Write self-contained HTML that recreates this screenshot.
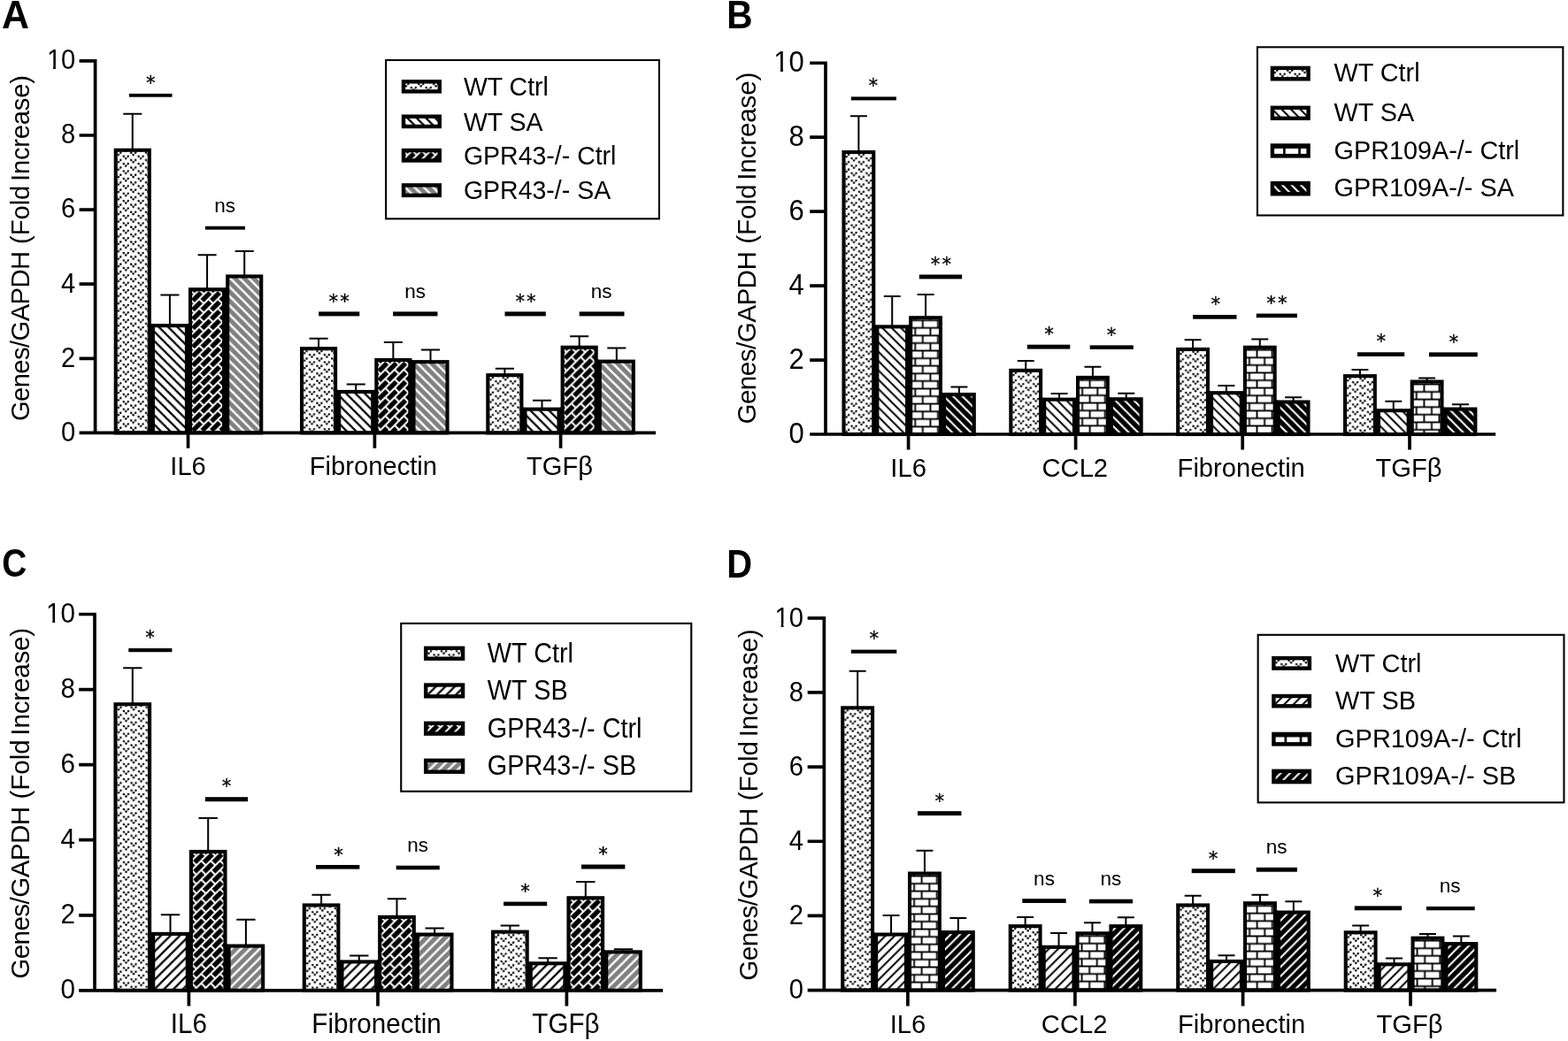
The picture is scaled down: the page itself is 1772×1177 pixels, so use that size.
<!DOCTYPE html>
<html lang="en">
<head>
<meta charset="utf-8">
<title>Figure: gene expression bar charts</title>
<style>
html,body{margin:0;padding:0;background:#fff;}
body{width:1772px;height:1177px;overflow:hidden;}
svg{display:block;}
svg text{font-family:"Liberation Sans",sans-serif;fill:#000;}
svg text.st{font-family:"DejaVu Sans Mono",monospace;stroke:#000;stroke-width:0.3px;}
svg text.pl{font-weight:bold;}
</style>
</head>
<body>
<svg width="1772" height="1177" viewBox="0 0 1772 1177" fill="#000">
<defs><pattern id="pDotA" patternUnits="userSpaceOnUse" width="16.82" height="8.41" patternTransform="translate(9.35 5.2)"><rect width="16.82" height="8.41" fill="#fff"/><g fill="#000"><path d="M1.7 -4.6L4.21 -2.1L6.71 -4.6" fill="none" stroke="#000" stroke-width="0.9" stroke-opacity="0.6"/><circle cx="1.7" cy="-4.6" r="1.22"/><circle cx="6.71" cy="-4.6" r="1.22"/><circle cx="4.21" cy="-2.1" r="1.22"/><path d="M10.11 -8.81L12.62 -6.31L15.12 -8.81" fill="none" stroke="#000" stroke-width="0.9" stroke-opacity="0.6"/><circle cx="10.11" cy="-8.81" r="1.22"/><circle cx="15.12" cy="-8.81" r="1.22"/><circle cx="12.62" cy="-6.31" r="1.22"/><path d="M1.7 3.81L4.21 6.31L6.71 3.81" fill="none" stroke="#000" stroke-width="0.9" stroke-opacity="0.6"/><circle cx="1.7" cy="3.81" r="1.22"/><circle cx="6.71" cy="3.81" r="1.22"/><circle cx="4.21" cy="6.31" r="1.22"/><path d="M10.11 -0.4L12.62 2.1L15.12 -0.4" fill="none" stroke="#000" stroke-width="0.9" stroke-opacity="0.6"/><circle cx="10.11" cy="-0.4" r="1.22"/><circle cx="15.12" cy="-0.4" r="1.22"/><circle cx="12.62" cy="2.1" r="1.22"/><path d="M1.7 12.22L4.21 14.72L6.71 12.22" fill="none" stroke="#000" stroke-width="0.9" stroke-opacity="0.6"/><circle cx="1.7" cy="12.22" r="1.22"/><circle cx="6.71" cy="12.22" r="1.22"/><circle cx="4.21" cy="14.72" r="1.22"/><path d="M10.11 8.01L12.62 10.51L15.12 8.01" fill="none" stroke="#000" stroke-width="0.9" stroke-opacity="0.6"/><circle cx="10.11" cy="8.01" r="1.22"/><circle cx="15.12" cy="8.01" r="1.22"/><circle cx="12.62" cy="10.51" r="1.22"/></g></pattern><pattern id="pDownA" patternUnits="userSpaceOnUse" width="10.5" height="10.5" patternTransform="translate(0 1.14)"><rect width="10.5" height="10.5" fill="#fff"/><g stroke="#000" stroke-width="2.25" fill="none"><path d="M-2 -2L12.5 12.5"/><path d="M-2 8.5L2 12.5"/><path d="M8.5 -2L12.5 2"/></g></pattern><pattern id="pGDownA" patternUnits="userSpaceOnUse" width="10.5" height="10.5" patternTransform="translate(0 1.9)"><rect width="10.5" height="10.5" fill="#808080"/><g stroke="#fff" stroke-width="2.5" fill="none"><path d="M-2 -2L12.5 12.5"/><path d="M-2 8.5L2 12.5"/><path d="M8.5 -2L12.5 2"/></g></pattern><pattern id="pDBrickA" patternUnits="userSpaceOnUse" width="21" height="21" patternTransform="translate(1.6 12.8)"><rect width="21" height="21" fill="#000"/><g stroke="#fff" stroke-width="2.0" fill="none"><path d="M3 -3L-3 3"/><path d="M13.5 -3L-3 13.5"/><path d="M24 -3L-3 24"/><path d="M34.5 -3L-3 34.5"/><path d="M45 -3L-3 45"/><path d="M0 0L5.25 5.25"/><path d="M0 10.5L5.25 15.75"/><path d="M10.5 0L15.75 5.25"/><path d="M0 21L5.25 26.25"/><path d="M10.5 10.5L15.75 15.75"/><path d="M21 0L26.25 5.25"/><path d="M10.5 21L15.75 26.25"/><path d="M21 10.5L26.25 15.75"/><path d="M21 21L26.25 26.25"/></g></pattern><pattern id="pDotAL" patternUnits="userSpaceOnUse" width="16.82" height="8.41" patternTransform="translate(9.35 5.2)"><rect width="16.82" height="8.41" fill="#fff"/><g fill="#000"><path d="M1.7 -4.6L4.21 -2.1L6.71 -4.6" fill="none" stroke="#000" stroke-width="0.9" stroke-opacity="0.6"/><circle cx="1.7" cy="-4.6" r="1.22"/><circle cx="6.71" cy="-4.6" r="1.22"/><circle cx="4.21" cy="-2.1" r="1.22"/><path d="M10.11 -8.81L12.62 -6.31L15.12 -8.81" fill="none" stroke="#000" stroke-width="0.9" stroke-opacity="0.6"/><circle cx="10.11" cy="-8.81" r="1.22"/><circle cx="15.12" cy="-8.81" r="1.22"/><circle cx="12.62" cy="-6.31" r="1.22"/><path d="M1.7 3.81L4.21 6.31L6.71 3.81" fill="none" stroke="#000" stroke-width="0.9" stroke-opacity="0.6"/><circle cx="1.7" cy="3.81" r="1.22"/><circle cx="6.71" cy="3.81" r="1.22"/><circle cx="4.21" cy="6.31" r="1.22"/><path d="M10.11 -0.4L12.62 2.1L15.12 -0.4" fill="none" stroke="#000" stroke-width="0.9" stroke-opacity="0.6"/><circle cx="10.11" cy="-0.4" r="1.22"/><circle cx="15.12" cy="-0.4" r="1.22"/><circle cx="12.62" cy="2.1" r="1.22"/><path d="M1.7 12.22L4.21 14.72L6.71 12.22" fill="none" stroke="#000" stroke-width="0.9" stroke-opacity="0.6"/><circle cx="1.7" cy="12.22" r="1.22"/><circle cx="6.71" cy="12.22" r="1.22"/><circle cx="4.21" cy="14.72" r="1.22"/><path d="M10.11 8.01L12.62 10.51L15.12 8.01" fill="none" stroke="#000" stroke-width="0.9" stroke-opacity="0.6"/><circle cx="10.11" cy="8.01" r="1.22"/><circle cx="15.12" cy="8.01" r="1.22"/><circle cx="12.62" cy="10.51" r="1.22"/></g></pattern><pattern id="pDownAL" patternUnits="userSpaceOnUse" width="10.5" height="10.5" patternTransform="translate(0 -1.46)"><rect width="10.5" height="10.5" fill="#fff"/><g stroke="#000" stroke-width="2.25" fill="none"><path d="M-2 -2L12.5 12.5"/><path d="M-2 8.5L2 12.5"/><path d="M8.5 -2L12.5 2"/></g></pattern><pattern id="pGDownAL" patternUnits="userSpaceOnUse" width="10.5" height="10.5" patternTransform="translate(0 5.8)"><rect width="10.5" height="10.5" fill="#808080"/><g stroke="#fff" stroke-width="2.5" fill="none"><path d="M-2 -2L12.5 12.5"/><path d="M-2 8.5L2 12.5"/><path d="M8.5 -2L12.5 2"/></g></pattern><pattern id="pDBrickAL" patternUnits="userSpaceOnUse" width="21" height="21" patternTransform="translate(1.6 12.8)"><rect width="21" height="21" fill="#000"/><g stroke="#fff" stroke-width="2.0" fill="none"><path d="M3 -3L-3 3"/><path d="M13.5 -3L-3 13.5"/><path d="M24 -3L-3 24"/><path d="M34.5 -3L-3 34.5"/><path d="M45 -3L-3 45"/><path d="M0 0L5.25 5.25"/><path d="M0 10.5L5.25 15.75"/><path d="M10.5 0L15.75 5.25"/><path d="M0 21L5.25 26.25"/><path d="M10.5 10.5L15.75 15.75"/><path d="M21 0L26.25 5.25"/><path d="M10.5 21L15.75 26.25"/><path d="M21 10.5L26.25 15.75"/><path d="M21 21L26.25 26.25"/></g></pattern><pattern id="pDotB" patternUnits="userSpaceOnUse" width="16.82" height="8.41" patternTransform="translate(9.35 5.2)"><rect width="16.82" height="8.41" fill="#fff"/><g fill="#000"><path d="M1.7 -4.6L4.21 -2.1L6.71 -4.6" fill="none" stroke="#000" stroke-width="0.9" stroke-opacity="0.6"/><circle cx="1.7" cy="-4.6" r="1.22"/><circle cx="6.71" cy="-4.6" r="1.22"/><circle cx="4.21" cy="-2.1" r="1.22"/><path d="M10.11 -8.81L12.62 -6.31L15.12 -8.81" fill="none" stroke="#000" stroke-width="0.9" stroke-opacity="0.6"/><circle cx="10.11" cy="-8.81" r="1.22"/><circle cx="15.12" cy="-8.81" r="1.22"/><circle cx="12.62" cy="-6.31" r="1.22"/><path d="M1.7 3.81L4.21 6.31L6.71 3.81" fill="none" stroke="#000" stroke-width="0.9" stroke-opacity="0.6"/><circle cx="1.7" cy="3.81" r="1.22"/><circle cx="6.71" cy="3.81" r="1.22"/><circle cx="4.21" cy="6.31" r="1.22"/><path d="M10.11 -0.4L12.62 2.1L15.12 -0.4" fill="none" stroke="#000" stroke-width="0.9" stroke-opacity="0.6"/><circle cx="10.11" cy="-0.4" r="1.22"/><circle cx="15.12" cy="-0.4" r="1.22"/><circle cx="12.62" cy="2.1" r="1.22"/><path d="M1.7 12.22L4.21 14.72L6.71 12.22" fill="none" stroke="#000" stroke-width="0.9" stroke-opacity="0.6"/><circle cx="1.7" cy="12.22" r="1.22"/><circle cx="6.71" cy="12.22" r="1.22"/><circle cx="4.21" cy="14.72" r="1.22"/><path d="M10.11 8.01L12.62 10.51L15.12 8.01" fill="none" stroke="#000" stroke-width="0.9" stroke-opacity="0.6"/><circle cx="10.11" cy="8.01" r="1.22"/><circle cx="15.12" cy="8.01" r="1.22"/><circle cx="12.62" cy="10.51" r="1.22"/></g></pattern><pattern id="pDownB" patternUnits="userSpaceOnUse" width="10.5" height="10.5" patternTransform="translate(0 3.5)"><rect width="10.5" height="10.5" fill="#fff"/><g stroke="#000" stroke-width="2.0" fill="none"><path d="M-2 -2L12.5 12.5"/><path d="M-2 8.5L2 12.5"/><path d="M8.5 -2L12.5 2"/></g></pattern><pattern id="pBDownB" patternUnits="userSpaceOnUse" width="10.5" height="10.5" patternTransform="translate(0 0.85)"><rect width="10.5" height="10.5" fill="#000"/><g stroke="#fff" stroke-width="2.1" fill="none"><path d="M-2 -2L12.5 12.5"/><path d="M-2 8.5L2 12.5"/><path d="M8.5 -2L12.5 2"/></g></pattern><pattern id="pHBrickB" patternUnits="userSpaceOnUse" width="17.17" height="17.17" patternTransform="translate(11.38 0.68)"><rect width="17.17" height="17.17" fill="#fff"/><g stroke="#000" stroke-width="1.9" fill="none"><path d="M-1 4.29H18.17"/><path d="M-1 12.88H18.17"/><path d="M4.29 4.29V12.88"/><path d="M12.88 -1V4.29"/><path d="M12.88 12.88V18.17"/></g></pattern><pattern id="pDotBL" patternUnits="userSpaceOnUse" width="16.82" height="8.41" patternTransform="translate(9.35 5.2)"><rect width="16.82" height="8.41" fill="#fff"/><g fill="#000"><path d="M1.7 -4.6L4.21 -2.1L6.71 -4.6" fill="none" stroke="#000" stroke-width="0.9" stroke-opacity="0.6"/><circle cx="1.7" cy="-4.6" r="1.22"/><circle cx="6.71" cy="-4.6" r="1.22"/><circle cx="4.21" cy="-2.1" r="1.22"/><path d="M10.11 -8.81L12.62 -6.31L15.12 -8.81" fill="none" stroke="#000" stroke-width="0.9" stroke-opacity="0.6"/><circle cx="10.11" cy="-8.81" r="1.22"/><circle cx="15.12" cy="-8.81" r="1.22"/><circle cx="12.62" cy="-6.31" r="1.22"/><path d="M1.7 3.81L4.21 6.31L6.71 3.81" fill="none" stroke="#000" stroke-width="0.9" stroke-opacity="0.6"/><circle cx="1.7" cy="3.81" r="1.22"/><circle cx="6.71" cy="3.81" r="1.22"/><circle cx="4.21" cy="6.31" r="1.22"/><path d="M10.11 -0.4L12.62 2.1L15.12 -0.4" fill="none" stroke="#000" stroke-width="0.9" stroke-opacity="0.6"/><circle cx="10.11" cy="-0.4" r="1.22"/><circle cx="15.12" cy="-0.4" r="1.22"/><circle cx="12.62" cy="2.1" r="1.22"/><path d="M1.7 12.22L4.21 14.72L6.71 12.22" fill="none" stroke="#000" stroke-width="0.9" stroke-opacity="0.6"/><circle cx="1.7" cy="12.22" r="1.22"/><circle cx="6.71" cy="12.22" r="1.22"/><circle cx="4.21" cy="14.72" r="1.22"/><path d="M10.11 8.01L12.62 10.51L15.12 8.01" fill="none" stroke="#000" stroke-width="0.9" stroke-opacity="0.6"/><circle cx="10.11" cy="8.01" r="1.22"/><circle cx="15.12" cy="8.01" r="1.22"/><circle cx="12.62" cy="10.51" r="1.22"/></g></pattern><pattern id="pDownBL" patternUnits="userSpaceOnUse" width="10.5" height="10.5" patternTransform="translate(0 8.7)"><rect width="10.5" height="10.5" fill="#fff"/><g stroke="#000" stroke-width="2.0" fill="none"><path d="M-2 -2L12.5 12.5"/><path d="M-2 8.5L2 12.5"/><path d="M8.5 -2L12.5 2"/></g></pattern><pattern id="pBDownBL" patternUnits="userSpaceOnUse" width="10.5" height="10.5" patternTransform="translate(0 -0.85)"><rect width="10.5" height="10.5" fill="#000"/><g stroke="#fff" stroke-width="2.1" fill="none"><path d="M-2 -2L12.5 12.5"/><path d="M-2 8.5L2 12.5"/><path d="M8.5 -2L12.5 2"/></g></pattern><pattern id="pHBrickBL" patternUnits="userSpaceOnUse" width="17.17" height="17.17" patternTransform="translate(11.38 0.1)"><rect width="17.17" height="17.17" fill="#fff"/><g stroke="#000" stroke-width="2.6" fill="none"><path d="M-1 4.29H18.17"/><path d="M-1 12.88H18.17"/><path d="M4.29 4.29V12.88"/><path d="M12.88 -1V4.29"/><path d="M12.88 12.88V18.17"/></g></pattern><pattern id="pDotC" patternUnits="userSpaceOnUse" width="17.07" height="8.54" patternTransform="translate(9.8 6)"><rect width="17.07" height="8.54" fill="#fff"/><g fill="#000"><path d="M1.73 -4.67L4.27 -2.13L6.81 -4.67" fill="none" stroke="#000" stroke-width="0.9" stroke-opacity="0.6"/><circle cx="1.73" cy="-4.67" r="1.22"/><circle cx="6.81" cy="-4.67" r="1.22"/><circle cx="4.27" cy="-2.13" r="1.22"/><path d="M10.26 -8.94L12.8 -6.4L15.34 -8.94" fill="none" stroke="#000" stroke-width="0.9" stroke-opacity="0.6"/><circle cx="10.26" cy="-8.94" r="1.22"/><circle cx="15.34" cy="-8.94" r="1.22"/><circle cx="12.8" cy="-6.4" r="1.22"/><path d="M1.73 3.86L4.27 6.4L6.81 3.86" fill="none" stroke="#000" stroke-width="0.9" stroke-opacity="0.6"/><circle cx="1.73" cy="3.86" r="1.22"/><circle cx="6.81" cy="3.86" r="1.22"/><circle cx="4.27" cy="6.4" r="1.22"/><path d="M10.26 -0.41L12.8 2.13L15.34 -0.41" fill="none" stroke="#000" stroke-width="0.9" stroke-opacity="0.6"/><circle cx="10.26" cy="-0.41" r="1.22"/><circle cx="15.34" cy="-0.41" r="1.22"/><circle cx="12.8" cy="2.13" r="1.22"/><path d="M1.73 12.4L4.27 14.94L6.81 12.4" fill="none" stroke="#000" stroke-width="0.9" stroke-opacity="0.6"/><circle cx="1.73" cy="12.4" r="1.22"/><circle cx="6.81" cy="12.4" r="1.22"/><circle cx="4.27" cy="14.94" r="1.22"/><path d="M10.26 8.13L12.8 10.67L15.34 8.13" fill="none" stroke="#000" stroke-width="0.9" stroke-opacity="0.6"/><circle cx="10.26" cy="8.13" r="1.22"/><circle cx="15.34" cy="8.13" r="1.22"/><circle cx="12.8" cy="10.67" r="1.22"/></g></pattern><pattern id="pUpC" patternUnits="userSpaceOnUse" width="10.66" height="10.66" patternTransform="translate(0 3.2)"><rect width="10.66" height="10.66" fill="#fff"/><g stroke="#000" stroke-width="2.25" fill="none"><path d="M-2 12.66L12.66 -2"/><path d="M-2 2L2 -2"/><path d="M8.66 12.66L12.66 8.66"/></g></pattern><pattern id="pGUpC" patternUnits="userSpaceOnUse" width="10.66" height="10.66" patternTransform="translate(0 1.8)"><rect width="10.66" height="10.66" fill="#808080"/><g stroke="#fff" stroke-width="2.5" fill="none"><path d="M-2 12.66L12.66 -2"/><path d="M-2 2L2 -2"/><path d="M8.66 12.66L12.66 8.66"/></g></pattern><pattern id="pDBrickC" patternUnits="userSpaceOnUse" width="21.31" height="21.31" patternTransform="translate(2.85 12.2)"><rect width="21.31" height="21.31" fill="#000"/><g stroke="#fff" stroke-width="2.0" fill="none"><path d="M3 -3L-3 3"/><path d="M13.66 -3L-3 13.66"/><path d="M24.31 -3L-3 24.31"/><path d="M34.97 -3L-3 34.97"/><path d="M45.63 -3L-3 45.63"/><path d="M0 0L5.33 5.33"/><path d="M0 10.66L5.33 15.99"/><path d="M10.66 0L15.99 5.33"/><path d="M0 21.31L5.33 26.64"/><path d="M10.66 10.66L15.99 15.99"/><path d="M21.31 0L26.64 5.33"/><path d="M10.66 21.31L15.99 26.64"/><path d="M21.31 10.66L26.64 15.99"/><path d="M21.31 21.31L26.64 26.64"/></g></pattern><pattern id="pDotCL" patternUnits="userSpaceOnUse" width="17.07" height="8.54" patternTransform="translate(9.8 6)"><rect width="17.07" height="8.54" fill="#fff"/><g fill="#000"><path d="M1.73 -4.67L4.27 -2.13L6.81 -4.67" fill="none" stroke="#000" stroke-width="0.9" stroke-opacity="0.6"/><circle cx="1.73" cy="-4.67" r="1.22"/><circle cx="6.81" cy="-4.67" r="1.22"/><circle cx="4.27" cy="-2.13" r="1.22"/><path d="M10.26 -8.94L12.8 -6.4L15.34 -8.94" fill="none" stroke="#000" stroke-width="0.9" stroke-opacity="0.6"/><circle cx="10.26" cy="-8.94" r="1.22"/><circle cx="15.34" cy="-8.94" r="1.22"/><circle cx="12.8" cy="-6.4" r="1.22"/><path d="M1.73 3.86L4.27 6.4L6.81 3.86" fill="none" stroke="#000" stroke-width="0.9" stroke-opacity="0.6"/><circle cx="1.73" cy="3.86" r="1.22"/><circle cx="6.81" cy="3.86" r="1.22"/><circle cx="4.27" cy="6.4" r="1.22"/><path d="M10.26 -0.41L12.8 2.13L15.34 -0.41" fill="none" stroke="#000" stroke-width="0.9" stroke-opacity="0.6"/><circle cx="10.26" cy="-0.41" r="1.22"/><circle cx="15.34" cy="-0.41" r="1.22"/><circle cx="12.8" cy="2.13" r="1.22"/><path d="M1.73 12.4L4.27 14.94L6.81 12.4" fill="none" stroke="#000" stroke-width="0.9" stroke-opacity="0.6"/><circle cx="1.73" cy="12.4" r="1.22"/><circle cx="6.81" cy="12.4" r="1.22"/><circle cx="4.27" cy="14.94" r="1.22"/><path d="M10.26 8.13L12.8 10.67L15.34 8.13" fill="none" stroke="#000" stroke-width="0.9" stroke-opacity="0.6"/><circle cx="10.26" cy="8.13" r="1.22"/><circle cx="15.34" cy="8.13" r="1.22"/><circle cx="12.8" cy="10.67" r="1.22"/></g></pattern><pattern id="pUpCL" patternUnits="userSpaceOnUse" width="10.66" height="10.66" patternTransform="translate(0 0.3)"><rect width="10.66" height="10.66" fill="#fff"/><g stroke="#000" stroke-width="2.25" fill="none"><path d="M-2 12.66L12.66 -2"/><path d="M-2 2L2 -2"/><path d="M8.66 12.66L12.66 8.66"/></g></pattern><pattern id="pGUpCL" patternUnits="userSpaceOnUse" width="10.66" height="10.66" patternTransform="translate(0 1.8)"><rect width="10.66" height="10.66" fill="#808080"/><g stroke="#fff" stroke-width="2.5" fill="none"><path d="M-2 12.66L12.66 -2"/><path d="M-2 2L2 -2"/><path d="M8.66 12.66L12.66 8.66"/></g></pattern><pattern id="pDBrickCL" patternUnits="userSpaceOnUse" width="21.31" height="21.31" patternTransform="translate(2.85 12.2)"><rect width="21.31" height="21.31" fill="#000"/><g stroke="#fff" stroke-width="2.0" fill="none"><path d="M3 -3L-3 3"/><path d="M13.66 -3L-3 13.66"/><path d="M24.31 -3L-3 24.31"/><path d="M34.97 -3L-3 34.97"/><path d="M45.63 -3L-3 45.63"/><path d="M0 0L5.33 5.33"/><path d="M0 10.66L5.33 15.99"/><path d="M10.66 0L15.99 5.33"/><path d="M0 21.31L5.33 26.64"/><path d="M10.66 10.66L15.99 15.99"/><path d="M21.31 0L26.64 5.33"/><path d="M10.66 21.31L15.99 26.64"/><path d="M21.31 10.66L26.64 15.99"/><path d="M21.31 21.31L26.64 26.64"/></g></pattern><pattern id="pDotD" patternUnits="userSpaceOnUse" width="16.82" height="8.41" patternTransform="translate(9.35 5.2)"><rect width="16.82" height="8.41" fill="#fff"/><g fill="#000"><path d="M1.7 -4.6L4.21 -2.1L6.71 -4.6" fill="none" stroke="#000" stroke-width="0.9" stroke-opacity="0.6"/><circle cx="1.7" cy="-4.6" r="1.22"/><circle cx="6.71" cy="-4.6" r="1.22"/><circle cx="4.21" cy="-2.1" r="1.22"/><path d="M10.11 -8.81L12.62 -6.31L15.12 -8.81" fill="none" stroke="#000" stroke-width="0.9" stroke-opacity="0.6"/><circle cx="10.11" cy="-8.81" r="1.22"/><circle cx="15.12" cy="-8.81" r="1.22"/><circle cx="12.62" cy="-6.31" r="1.22"/><path d="M1.7 3.81L4.21 6.31L6.71 3.81" fill="none" stroke="#000" stroke-width="0.9" stroke-opacity="0.6"/><circle cx="1.7" cy="3.81" r="1.22"/><circle cx="6.71" cy="3.81" r="1.22"/><circle cx="4.21" cy="6.31" r="1.22"/><path d="M10.11 -0.4L12.62 2.1L15.12 -0.4" fill="none" stroke="#000" stroke-width="0.9" stroke-opacity="0.6"/><circle cx="10.11" cy="-0.4" r="1.22"/><circle cx="15.12" cy="-0.4" r="1.22"/><circle cx="12.62" cy="2.1" r="1.22"/><path d="M1.7 12.22L4.21 14.72L6.71 12.22" fill="none" stroke="#000" stroke-width="0.9" stroke-opacity="0.6"/><circle cx="1.7" cy="12.22" r="1.22"/><circle cx="6.71" cy="12.22" r="1.22"/><circle cx="4.21" cy="14.72" r="1.22"/><path d="M10.11 8.01L12.62 10.51L15.12 8.01" fill="none" stroke="#000" stroke-width="0.9" stroke-opacity="0.6"/><circle cx="10.11" cy="8.01" r="1.22"/><circle cx="15.12" cy="8.01" r="1.22"/><circle cx="12.62" cy="10.51" r="1.22"/></g></pattern><pattern id="pUpD" patternUnits="userSpaceOnUse" width="10.5" height="10.5" patternTransform="translate(0 0.7)"><rect width="10.5" height="10.5" fill="#fff"/><g stroke="#000" stroke-width="2.0" fill="none"><path d="M-2 12.5L12.5 -2"/><path d="M-2 2L2 -2"/><path d="M8.5 12.5L12.5 8.5"/></g></pattern><pattern id="pBUpD" patternUnits="userSpaceOnUse" width="10.5" height="10.5" patternTransform="translate(0 -0.6)"><rect width="10.5" height="10.5" fill="#000"/><g stroke="#fff" stroke-width="2.1" fill="none"><path d="M-2 12.5L12.5 -2"/><path d="M-2 2L2 -2"/><path d="M8.5 12.5L12.5 8.5"/></g></pattern><pattern id="pHBrickD" patternUnits="userSpaceOnUse" width="17.17" height="17.17" patternTransform="translate(11.38 0.68)"><rect width="17.17" height="17.17" fill="#fff"/><g stroke="#000" stroke-width="1.9" fill="none"><path d="M-1 4.29H18.17"/><path d="M-1 12.88H18.17"/><path d="M4.29 4.29V12.88"/><path d="M12.88 -1V4.29"/><path d="M12.88 12.88V18.17"/></g></pattern><pattern id="pDotDL" patternUnits="userSpaceOnUse" width="16.82" height="8.41" patternTransform="translate(9.35 5.2)"><rect width="16.82" height="8.41" fill="#fff"/><g fill="#000"><path d="M1.7 -4.6L4.21 -2.1L6.71 -4.6" fill="none" stroke="#000" stroke-width="0.9" stroke-opacity="0.6"/><circle cx="1.7" cy="-4.6" r="1.22"/><circle cx="6.71" cy="-4.6" r="1.22"/><circle cx="4.21" cy="-2.1" r="1.22"/><path d="M10.11 -8.81L12.62 -6.31L15.12 -8.81" fill="none" stroke="#000" stroke-width="0.9" stroke-opacity="0.6"/><circle cx="10.11" cy="-8.81" r="1.22"/><circle cx="15.12" cy="-8.81" r="1.22"/><circle cx="12.62" cy="-6.31" r="1.22"/><path d="M1.7 3.81L4.21 6.31L6.71 3.81" fill="none" stroke="#000" stroke-width="0.9" stroke-opacity="0.6"/><circle cx="1.7" cy="3.81" r="1.22"/><circle cx="6.71" cy="3.81" r="1.22"/><circle cx="4.21" cy="6.31" r="1.22"/><path d="M10.11 -0.4L12.62 2.1L15.12 -0.4" fill="none" stroke="#000" stroke-width="0.9" stroke-opacity="0.6"/><circle cx="10.11" cy="-0.4" r="1.22"/><circle cx="15.12" cy="-0.4" r="1.22"/><circle cx="12.62" cy="2.1" r="1.22"/><path d="M1.7 12.22L4.21 14.72L6.71 12.22" fill="none" stroke="#000" stroke-width="0.9" stroke-opacity="0.6"/><circle cx="1.7" cy="12.22" r="1.22"/><circle cx="6.71" cy="12.22" r="1.22"/><circle cx="4.21" cy="14.72" r="1.22"/><path d="M10.11 8.01L12.62 10.51L15.12 8.01" fill="none" stroke="#000" stroke-width="0.9" stroke-opacity="0.6"/><circle cx="10.11" cy="8.01" r="1.22"/><circle cx="15.12" cy="8.01" r="1.22"/><circle cx="12.62" cy="10.51" r="1.22"/></g></pattern><pattern id="pUpDL" patternUnits="userSpaceOnUse" width="10.5" height="10.5" patternTransform="translate(0 0.7)"><rect width="10.5" height="10.5" fill="#fff"/><g stroke="#000" stroke-width="2.0" fill="none"><path d="M-2 12.5L12.5 -2"/><path d="M-2 2L2 -2"/><path d="M8.5 12.5L12.5 8.5"/></g></pattern><pattern id="pBUpDL" patternUnits="userSpaceOnUse" width="10.5" height="10.5" patternTransform="translate(0 1.1)"><rect width="10.5" height="10.5" fill="#000"/><g stroke="#fff" stroke-width="2.1" fill="none"><path d="M-2 12.5L12.5 -2"/><path d="M-2 2L2 -2"/><path d="M8.5 12.5L12.5 8.5"/></g></pattern><pattern id="pHBrickDL" patternUnits="userSpaceOnUse" width="17.17" height="17.17" patternTransform="translate(11.38 0.1)"><rect width="17.17" height="17.17" fill="#fff"/><g stroke="#000" stroke-width="2.6" fill="none"><path d="M-1 4.29H18.17"/><path d="M-1 12.88H18.17"/><path d="M4.29 4.29V12.88"/><path d="M12.88 -1V4.29"/><path d="M12.88 12.88V18.17"/></g></pattern></defs>
<rect width="1772" height="1177" fill="#fff"/>
<g id="panel-A"><path d="M149.77 128.8V168.7 M139.24 128.8H160.31 M191.92 333.4V367.1 M181.39 333.4H202.46 M234.07 288.2V326.2 M223.54 288.2H244.61 M276.22 284V311.4 M265.69 284H286.76 M360.07 382.8V393.1 M349.54 382.8H370.61 M402.22 434.4V441.9 M391.69 434.4H412.76 M444.38 387V405.95 M433.84 387H454.91 M486.52 395.6V408.1 M475.99 395.6H497.06 M570.38 416.8V423.1 M559.84 416.8H580.91 M612.52 452.7V461.6 M601.99 452.7H623.06 M654.67 380.3V391.7 M644.14 380.3H665.21 M696.83 393.4V407.6 M686.29 393.4H707.36" stroke="#000" stroke-width="2.0" fill="none"/>
<rect x="169.85" y="366.1" width="2" height="123.3"/>
<rect x="212" y="366.1" width="2" height="123.3"/>
<rect x="254.15" y="325.2" width="2" height="164.2"/>
<g transform="translate(128.7 167.7)"><rect x="2.05" y="2.05" width="38.05" height="319.65" fill="url(#pDotA)" stroke="#000" stroke-width="4.1"/></g>
<rect x="172.9" y="368.15" width="38.05" height="121.25" fill="url(#pDownA)" stroke="#000" stroke-width="4.1"/>
<g transform="translate(213 325.2)"><rect x="2.05" y="2.05" width="38.05" height="162.15" fill="url(#pDBrickA)" stroke="#000" stroke-width="4.1"/></g>
<rect x="257.2" y="312.45" width="38.05" height="176.95" fill="url(#pGDownA)" stroke="#000" stroke-width="4.1"/>
<rect x="380.15" y="440.9" width="2" height="48.5"/>
<rect x="422.3" y="440.9" width="2" height="48.5"/>
<rect x="464.45" y="407.1" width="2" height="82.3"/>
<g transform="translate(339 392.1)"><rect x="2.05" y="2.05" width="38.05" height="95.25" fill="url(#pDotA)" stroke="#000" stroke-width="4.1"/></g>
<rect x="383.2" y="442.95" width="38.05" height="46.45" fill="url(#pDownA)" stroke="#000" stroke-width="4.1"/>
<g transform="translate(423.3 404.95)"><rect x="2.05" y="2.05" width="38.05" height="82.4" fill="url(#pDBrickA)" stroke="#000" stroke-width="4.1"/></g>
<rect x="467.5" y="409.15" width="38.05" height="80.25" fill="url(#pGDownA)" stroke="#000" stroke-width="4.1"/>
<rect x="590.45" y="460.6" width="2" height="28.8"/>
<rect x="632.6" y="460.6" width="2" height="28.8"/>
<rect x="674.75" y="406.6" width="2" height="82.8"/>
<g transform="translate(549.3 422.1)"><rect x="2.05" y="2.05" width="38.05" height="65.25" fill="url(#pDotA)" stroke="#000" stroke-width="4.1"/></g>
<rect x="593.5" y="462.65" width="38.05" height="26.75" fill="url(#pDownA)" stroke="#000" stroke-width="4.1"/>
<g transform="translate(633.6 390.7)"><rect x="2.05" y="2.05" width="38.05" height="96.65" fill="url(#pDBrickA)" stroke="#000" stroke-width="4.1"/></g>
<rect x="677.8" y="408.65" width="38.05" height="80.75" fill="url(#pGDownA)" stroke="#000" stroke-width="4.1"/>
<path d="M107.6 67.05V491.25 M89.6 489.4H741.1 M89.6 68.9H107.6 M89.6 153H107.6 M89.6 237.1H107.6 M89.6 321.2H107.6 M89.6 405.3H107.6 M212.55 489.4V506.8 M423.4 489.4V506.8 M633.6 489.4V506.8" stroke="#000" stroke-width="3.7" fill="none"/>
<text transform="translate(85.3 78.2) scale(1 1.07)" font-size="29.17" text-anchor="end">10</text>
<path transform="translate(85.3 78.2) scale(1.0000 1.0700)" fill="#fff" d="M-30.99 -3.48H-25.24V0.7H-30.99Z M-22.4 -3.48H-16.99V0.7H-22.4Z"/>
<text transform="translate(85.3 162.3) scale(1 1.07)" font-size="29.17" text-anchor="end">8</text>
<text transform="translate(85.3 246.4) scale(1 1.07)" font-size="29.17" text-anchor="end">6</text>
<text transform="translate(85.3 330.5) scale(1 1.07)" font-size="29.17" text-anchor="end">4</text>
<text transform="translate(85.3 414.6) scale(1 1.07)" font-size="29.17" text-anchor="end">2</text>
<text transform="translate(85.3 498.7) scale(1 1.07)" font-size="29.17" text-anchor="end">0</text>
<text transform="translate(212.55 536.6) scale(1 1.04)" font-size="29.17" text-anchor="middle">IL6</text>
<text transform="translate(421.9 536.6) scale(1 1.04)" font-size="29.17" text-anchor="middle">Fibronectin</text>
<text transform="translate(632.6 536.6) scale(1 1.04)" font-size="29.17" text-anchor="middle">TGFβ</text>
<text transform="translate(33.2 0) rotate(-90) scale(1 1.02)" font-size="29.17"><tspan x="-476.1" letter-spacing="-0.56">Genes/GAPDH</tspan> <tspan x="-275.9" letter-spacing="-0.05">(Fold</tspan> <tspan x="-205" letter-spacing="-0.2">Increase)</tspan></text>
<rect x="145.9" y="105.9" width="48.6" height="3.8"/>
<text class="st" transform="translate(170.4 101.03) scale(1 1.04)" font-size="21.0" text-anchor="middle">*</text>
<rect x="231.9" y="255.75" width="45.1" height="3.9"/>
<text transform="translate(254.2 240.1) scale(1 0.98)" font-size="22.6" text-anchor="middle">ns</text>
<rect x="360.2" y="352.4" width="46.1" height="5"/>
<text class="st" transform="translate(383.2 348.18) scale(1 1.04)" font-size="21.0" text-anchor="middle">**</text>
<rect x="444.15" y="352.4" width="50.35" height="5"/>
<text transform="translate(469.2 337.2) scale(1 0.98)" font-size="22.6" text-anchor="middle">ns</text>
<rect x="570.5" y="352.4" width="46.3" height="5"/>
<text class="st" transform="translate(594.1 348.18) scale(1 1.04)" font-size="21.0" text-anchor="middle">**</text>
<rect x="654.7" y="352.4" width="50.8" height="5"/>
<text transform="translate(679.7 337.2) scale(1 0.98)" font-size="22.6" text-anchor="middle">ns</text>
<rect x="436.15" y="67.95" width="308.8" height="179.4" fill="#fff" stroke="#000" stroke-width="2.1"/>
<g transform="translate(453.8 90.1)"><rect x="2.2" y="2.2" width="40.8" height="11.1" fill="url(#pDotAL)" stroke="#000" stroke-width="4.4"/></g>
<text transform="translate(523.9 107.8) scale(0.977 1.04)" font-size="29.17">WT Ctrl</text>
<rect x="456" y="131.7" width="40.8" height="11.3" fill="url(#pDownAL)" stroke="#000" stroke-width="4.4"/>
<text transform="translate(523.9 147.5) scale(0.977 1.04)" font-size="29.17">WT SA</text>
<g transform="translate(453.8 167.8)"><rect x="2.2" y="2.2" width="40.8" height="11.5" fill="url(#pDBrickAL)" stroke="#000" stroke-width="4.4"/></g>
<text transform="translate(523.9 185.5) scale(0.977 1.04)" font-size="29.17">GPR43-/- Ctrl</text>
<rect x="456" y="209.4" width="40.8" height="11.5" fill="url(#pGDownAL)" stroke="#000" stroke-width="4.4"/>
<text transform="translate(523.9 225) scale(0.977 1.04)" font-size="29.17">GPR43-/- SA</text>
<text class="pl" transform="translate(1.9 32.1) scale(1.03 1.07)" font-size="41.7">A</text></g>
<g id="panel-B"><path d="M970.38 131.2V170.95 M960.91 131.2H979.84 M1008.23 334.9V368.35 M998.76 334.9H1017.69 M1046.08 333.1V358.2 M1036.61 333.1H1055.54 M1083.92 437.6V444.95 M1074.46 437.6H1093.39 M1159.22 408V417.8 M1149.76 408H1168.69 M1197.07 445.05V450.6 M1187.61 445.05H1206.54 M1234.92 414.65V425.85 M1225.46 414.65H1244.39 M1272.77 444.85V450.2 M1263.31 444.85H1282.24 M1348.08 384.25V393.9 M1338.61 384.25H1357.54 M1385.92 435.9V443.15 M1376.46 435.9H1395.39 M1423.78 383.5V391.7 M1414.31 383.5H1433.24 M1461.62 449.3V453.45 M1452.16 449.3H1471.09 M1536.92 418V424.1 M1527.46 418H1546.39 M1574.77 453.65V463.1 M1565.31 453.65H1584.24 M1612.62 427.45V430.5 M1603.16 427.45H1622.09 M1650.47 457.15V461.5 M1641.01 457.15H1659.94" stroke="#000" stroke-width="2.0" fill="none"/>
<rect x="988.3" y="367.35" width="2" height="123.65"/>
<rect x="1026.15" y="367.35" width="2" height="123.65"/>
<rect x="1064" y="443.95" width="2" height="47.05"/>
<g transform="translate(951.45 169.95)"><rect x="2.05" y="2.05" width="33.75" height="319" fill="url(#pDotB)" stroke="#000" stroke-width="4.1"/></g>
<rect x="991.35" y="369.4" width="33.75" height="121.6" fill="url(#pDownB)" stroke="#000" stroke-width="4.1"/>
<g transform="translate(1027.15 357.2)"><rect x="2.05" y="2.05" width="33.75" height="131.75" fill="url(#pHBrickB)" stroke="#000" stroke-width="4.1"/></g>
<rect x="1067.05" y="446" width="33.75" height="45" fill="url(#pBDownB)" stroke="#000" stroke-width="4.1"/>
<rect x="1177.15" y="449.6" width="2" height="41.4"/>
<rect x="1215" y="449.6" width="2" height="41.4"/>
<rect x="1252.85" y="449.2" width="2" height="41.8"/>
<g transform="translate(1140.3 416.8)"><rect x="2.05" y="2.05" width="33.75" height="72.15" fill="url(#pDotB)" stroke="#000" stroke-width="4.1"/></g>
<rect x="1180.2" y="451.65" width="33.75" height="39.35" fill="url(#pDownB)" stroke="#000" stroke-width="4.1"/>
<g transform="translate(1216 424.85)"><rect x="2.05" y="2.05" width="33.75" height="64.1" fill="url(#pHBrickB)" stroke="#000" stroke-width="4.1"/></g>
<rect x="1255.9" y="451.25" width="33.75" height="39.75" fill="url(#pBDownB)" stroke="#000" stroke-width="4.1"/>
<rect x="1366" y="442.15" width="2" height="48.85"/>
<rect x="1403.85" y="442.15" width="2" height="48.85"/>
<rect x="1441.7" y="452.45" width="2" height="38.55"/>
<g transform="translate(1329.15 392.9)"><rect x="2.05" y="2.05" width="33.75" height="96.05" fill="url(#pDotB)" stroke="#000" stroke-width="4.1"/></g>
<rect x="1369.05" y="444.2" width="33.75" height="46.8" fill="url(#pDownB)" stroke="#000" stroke-width="4.1"/>
<g transform="translate(1404.85 390.7)"><rect x="2.05" y="2.05" width="33.75" height="98.25" fill="url(#pHBrickB)" stroke="#000" stroke-width="4.1"/></g>
<rect x="1444.75" y="454.5" width="33.75" height="36.5" fill="url(#pBDownB)" stroke="#000" stroke-width="4.1"/>
<rect x="1554.85" y="462.1" width="2" height="28.9"/>
<rect x="1592.7" y="462.1" width="2" height="28.9"/>
<rect x="1630.55" y="460.5" width="2" height="30.5"/>
<g transform="translate(1518 423.1)"><rect x="2.05" y="2.05" width="33.75" height="65.85" fill="url(#pDotB)" stroke="#000" stroke-width="4.1"/></g>
<rect x="1557.9" y="464.15" width="33.75" height="26.85" fill="url(#pDownB)" stroke="#000" stroke-width="4.1"/>
<g transform="translate(1593.7 429.5)"><rect x="2.05" y="2.05" width="33.75" height="59.45" fill="url(#pHBrickB)" stroke="#000" stroke-width="4.1"/></g>
<rect x="1633.6" y="462.55" width="33.75" height="28.45" fill="url(#pBDownB)" stroke="#000" stroke-width="4.1"/>
<path d="M933 69.4V492.85 M915.2 491H1690.2 M915.2 71.25H933 M915.2 155.2H933 M915.2 239.15H933 M915.2 323.1H933 M915.2 407.05H933 M1026.6 491V508.6 M1215.6 491V508.6 M1404.2 491V508.6 M1593 491V508.6" stroke="#000" stroke-width="3.7" fill="none"/>
<text transform="translate(908.8 81.35) scale(0.97 1.06)" font-size="32.0" text-anchor="end">10</text>
<path transform="translate(908.8 81.35) scale(0.9700 1.0600)" fill="#fff" d="M-33.99 -3.69H-27.69V0.7H-33.99Z M-24.57 -3.69H-18.63V0.7H-24.57Z"/>
<text transform="translate(908.8 165.3) scale(0.97 1.06)" font-size="32.0" text-anchor="end">8</text>
<text transform="translate(908.8 249.25) scale(0.97 1.06)" font-size="32.0" text-anchor="end">6</text>
<text transform="translate(908.8 333.2) scale(0.97 1.06)" font-size="32.0" text-anchor="end">4</text>
<text transform="translate(908.8 417.15) scale(0.97 1.06)" font-size="32.0" text-anchor="end">2</text>
<text transform="translate(908.8 501.1) scale(0.97 1.06)" font-size="32.0" text-anchor="end">0</text>
<text transform="translate(1026.6 539) scale(1 1.04)" font-size="29.17" text-anchor="middle">IL6</text>
<text transform="translate(1214.8 539) scale(1 1.04)" font-size="29.17" text-anchor="middle">CCL2</text>
<text transform="translate(1402.7 539) scale(1 1.04)" font-size="29.17" text-anchor="middle">Fibronectin</text>
<text transform="translate(1592 539) scale(1 1.04)" font-size="29.17" text-anchor="middle">TGFβ</text>
<text transform="translate(854 0) rotate(-90) scale(1 1.02)" font-size="29.68"><tspan x="-479.6" letter-spacing="-0.57">Genes/GAPDH</tspan> <tspan x="-275.88" letter-spacing="-0.05">(Fold</tspan> <tspan x="-203.73" letter-spacing="-0.2">Increase)</tspan></text>
<rect x="961.8" y="109.4" width="51.1" height="4"/>
<text class="st" transform="translate(986.9 104.03) scale(1 1.04)" font-size="21.0" text-anchor="middle">*</text>
<rect x="1038.8" y="310.5" width="48.35" height="4.9"/>
<text class="st" transform="translate(1063.45 305.78) scale(1 1.04)" font-size="21.0" text-anchor="middle">**</text>
<rect x="1160.9" y="389.7" width="48.4" height="4.9"/>
<text class="st" transform="translate(1185.6 384.98) scale(1 1.04)" font-size="21.0" text-anchor="middle">*</text>
<rect x="1231.7" y="390.4" width="49.1" height="4.5"/>
<text class="st" transform="translate(1256.1 385.88) scale(1 1.04)" font-size="21.0" text-anchor="middle">*</text>
<rect x="1348.1" y="356" width="49.4" height="4.7"/>
<text class="st" transform="translate(1373.8 351.48) scale(1 1.04)" font-size="21.0" text-anchor="middle">*</text>
<rect x="1419.8" y="354.57" width="46.1" height="4.65"/>
<text class="st" transform="translate(1442.9 349.68) scale(1 1.04)" font-size="21.0" text-anchor="middle">**</text>
<rect x="1534" y="398.28" width="53.2" height="4.65"/>
<text class="st" transform="translate(1560.8 393.48) scale(1 1.04)" font-size="21.0" text-anchor="middle">*</text>
<rect x="1615" y="398.4" width="54.75" height="4.9"/>
<text class="st" transform="translate(1642.7 393.58) scale(1 1.04)" font-size="21.0" text-anchor="middle">*</text>
<rect x="1420.95" y="53.3" width="345.4" height="190.2" fill="#fff" stroke="#000" stroke-width="2.1"/>
<g transform="translate(1435.7 74.7)"><rect x="2.2" y="2.2" width="40.7" height="12.4" fill="url(#pDotBL)" stroke="#000" stroke-width="4.4"/></g>
<text transform="translate(1507.5 92.4) scale(0.988 1.04)" font-size="29.17">WT Ctrl</text>
<rect x="1437.9" y="121.8" width="40.7" height="12" fill="url(#pDownBL)" stroke="#000" stroke-width="4.4"/>
<text transform="translate(1507.5 137.3) scale(0.988 1.04)" font-size="29.17">WT SA</text>
<g transform="translate(1435.7 162.3)"><rect x="2.2" y="2.2" width="40.7" height="11.9" fill="url(#pHBrickBL)" stroke="#000" stroke-width="4.4"/></g>
<text transform="translate(1507.5 179.9) scale(0.988 1.04)" font-size="29.17">GPR109A-/- Ctrl</text>
<rect x="1437.9" y="207.1" width="40.7" height="12.2" fill="url(#pBDownBL)" stroke="#000" stroke-width="4.4"/>
<text transform="translate(1507.5 222.3) scale(0.988 1.04)" font-size="29.17">GPR109A-/- SA</text>
<text class="pl" transform="translate(821.3 32.1) scale(0.97 1.07)" font-size="41.7">B</text></g>
<g id="panel-C"><path d="M149.8 755.35V795.2 M139.12 755.35H160.47 M192.5 1034.3V1054.85 M181.82 1034.3H203.17 M235.2 924.9V961.9 M224.52 924.9H245.88 M277.9 1039.8V1068.5 M267.23 1039.8H288.58 M363.1 1011.8V1022.4 M352.43 1011.8H373.78 M405.8 1080.5V1086.4 M395.12 1080.5H416.48 M448.5 1016.35V1035.8 M437.82 1016.35H459.18 M491.2 1049.45V1055.5 M480.53 1049.45H501.88 M576.4 1046.6V1052.55 M565.73 1046.6H587.07 M619.1 1083.3V1088.25 M608.43 1083.3H629.77 M661.8 997V1014.2 M651.12 997H672.47 M704.5 1073.15V1075.3 M693.83 1073.15H715.17" stroke="#000" stroke-width="2.0" fill="none"/>
<rect x="170.15" y="1053.85" width="2" height="66"/>
<rect x="212.85" y="1053.85" width="2" height="66"/>
<rect x="255.55" y="1067.5" width="2" height="52.35"/>
<g transform="translate(128.45 794.2)"><rect x="2.05" y="2.05" width="38.6" height="323.6" fill="url(#pDotC)" stroke="#000" stroke-width="4.1"/></g>
<rect x="173.2" y="1055.9" width="38.6" height="63.95" fill="url(#pUpC)" stroke="#000" stroke-width="4.1"/>
<g transform="translate(213.85 960.9)"><rect x="2.05" y="2.05" width="38.6" height="156.9" fill="url(#pDBrickC)" stroke="#000" stroke-width="4.1"/></g>
<rect x="258.6" y="1069.55" width="38.6" height="50.3" fill="url(#pGUpC)" stroke="#000" stroke-width="4.1"/>
<rect x="383.45" y="1085.4" width="2" height="34.45"/>
<rect x="426.15" y="1085.4" width="2" height="34.45"/>
<rect x="468.85" y="1054.5" width="2" height="65.35"/>
<g transform="translate(341.75 1021.4)"><rect x="2.05" y="2.05" width="38.6" height="96.4" fill="url(#pDotC)" stroke="#000" stroke-width="4.1"/></g>
<rect x="386.5" y="1087.45" width="38.6" height="32.4" fill="url(#pUpC)" stroke="#000" stroke-width="4.1"/>
<g transform="translate(427.15 1034.8)"><rect x="2.05" y="2.05" width="38.6" height="83" fill="url(#pDBrickC)" stroke="#000" stroke-width="4.1"/></g>
<rect x="471.9" y="1056.55" width="38.6" height="63.3" fill="url(#pGUpC)" stroke="#000" stroke-width="4.1"/>
<rect x="596.75" y="1087.25" width="2" height="32.6"/>
<rect x="639.45" y="1087.25" width="2" height="32.6"/>
<rect x="682.15" y="1074.3" width="2" height="45.55"/>
<g transform="translate(555.05 1051.55)"><rect x="2.05" y="2.05" width="38.6" height="66.25" fill="url(#pDotC)" stroke="#000" stroke-width="4.1"/></g>
<rect x="599.8" y="1089.3" width="38.6" height="30.55" fill="url(#pUpC)" stroke="#000" stroke-width="4.1"/>
<g transform="translate(640.45 1013.2)"><rect x="2.05" y="2.05" width="38.6" height="104.6" fill="url(#pDBrickC)" stroke="#000" stroke-width="4.1"/></g>
<rect x="685.2" y="1076.35" width="38.6" height="43.5" fill="url(#pGUpC)" stroke="#000" stroke-width="4.1"/>
<path d="M107 692.65V1121.7 M89.2 1119.85H749.1 M89.2 694.5H107 M89.2 779.57H107 M89.2 864.64H107 M89.2 949.71H107 M89.2 1034.78H107 M213.4 1119.85V1137.6 M427 1119.85V1137.6 M640.4 1119.85V1137.6" stroke="#000" stroke-width="3.7" fill="none"/>
<text transform="translate(84.9 703.9) scale(1 1.07)" font-size="29.6" text-anchor="end">10</text>
<path transform="translate(84.9 703.9) scale(1.0000 1.0700)" fill="#fff" d="M-31.44 -3.51H-25.61V0.7H-31.44Z M-22.73 -3.51H-17.24V0.7H-22.73Z"/>
<text transform="translate(84.9 788.97) scale(1 1.07)" font-size="29.6" text-anchor="end">8</text>
<text transform="translate(84.9 874.04) scale(1 1.07)" font-size="29.6" text-anchor="end">6</text>
<text transform="translate(84.9 959.11) scale(1 1.07)" font-size="29.6" text-anchor="end">4</text>
<text transform="translate(84.9 1044.18) scale(1 1.07)" font-size="29.6" text-anchor="end">2</text>
<text transform="translate(84.9 1129.25) scale(1 1.07)" font-size="29.6" text-anchor="end">0</text>
<text transform="translate(213.4 1167.7) scale(1 1.04)" font-size="29.6" text-anchor="middle">IL6</text>
<text transform="translate(425.5 1167.7) scale(1 1.04)" font-size="29.6" text-anchor="middle">Fibronectin</text>
<text transform="translate(639.4 1167.7) scale(1 1.04)" font-size="29.6" text-anchor="middle">TGFβ</text>
<text transform="translate(32.7 0) rotate(-90) scale(1 1.02)" font-size="29.61"><tspan x="-1106.8" letter-spacing="-0.57">Genes/GAPDH</tspan> <tspan x="-903.6" letter-spacing="-0.05">(Fold</tspan> <tspan x="-831.63" letter-spacing="-0.2">Increase)</tspan></text>
<rect x="145.3" y="733" width="49.1" height="4.2"/>
<text class="st" transform="translate(169.6 728.13) scale(1 1.04)" font-size="21.0" text-anchor="middle">*</text>
<rect x="231.9" y="901.2" width="48.2" height="5"/>
<text class="st" transform="translate(256.1 896.48) scale(1 1.04)" font-size="21.0" text-anchor="middle">*</text>
<rect x="357.1" y="977.97" width="49.25" height="4.65"/>
<text class="st" transform="translate(382.5 973.68) scale(1 1.04)" font-size="21.0" text-anchor="middle">*</text>
<rect x="447.7" y="978.7" width="49.1" height="4.6"/>
<text transform="translate(472.2 962.9) scale(1 0.98)" font-size="22.6" text-anchor="middle">ns</text>
<rect x="569.1" y="1019.57" width="49.1" height="4.65"/>
<text class="st" transform="translate(593.5 1014.98) scale(1 1.04)" font-size="21.0" text-anchor="middle">*</text>
<rect x="657" y="977.5" width="49.35" height="5"/>
<text class="st" transform="translate(681.65 972.83) scale(1 1.04)" font-size="21.0" text-anchor="middle">*</text>
<rect x="453.25" y="704.85" width="328" height="189.9" fill="#fff" stroke="#000" stroke-width="2.1"/>
<g transform="translate(479 730.6)"><rect x="2.2" y="2.2" width="41.9" height="11.9" fill="url(#pDotCL)" stroke="#000" stroke-width="4.4"/></g>
<text transform="translate(550.8 748.7) scale(0.975 1.04)" font-size="29.6">WT Ctrl</text>
<rect x="481.2" y="774.5" width="41.9" height="12.85" fill="url(#pUpCL)" stroke="#000" stroke-width="4.4"/>
<text transform="translate(550.8 790.8) scale(0.975 1.04)" font-size="29.6">WT SB</text>
<g transform="translate(479 815.55)"><rect x="2.2" y="2.2" width="41.9" height="11.85" fill="url(#pDBrickCL)" stroke="#000" stroke-width="4.4"/></g>
<text transform="translate(550.8 834) scale(0.975 1.04)" font-size="29.6">GPR43-/- Ctrl</text>
<rect x="481.2" y="859.8" width="41.9" height="12.9" fill="url(#pGUpCL)" stroke="#000" stroke-width="4.4"/>
<text transform="translate(550.8 875.7) scale(0.975 1.04)" font-size="29.6">GPR43-/- SB</text>
<text class="pl" transform="translate(2.3 652.4) scale(0.93 1.07)" font-size="41.7">C</text></g>
<g id="panel-D"><path d="M969.15 758.85V799.25 M959.68 758.85H978.63 M1007.05 1035V1055.5 M997.58 1035H1016.53 M1044.95 961.8V986.5 M1035.48 961.8H1054.42 M1082.85 1038V1053 M1073.38 1038H1092.33 M1158.65 1036.9V1046.1 M1149.18 1036.9H1168.12 M1196.55 1055V1069.75 M1187.08 1055H1206.03 M1234.45 1043.2V1054.25 M1224.98 1043.2H1243.92 M1272.35 1037.3V1046.1 M1262.88 1037.3H1281.83 M1348.15 1012.7V1022.4 M1338.68 1012.7H1357.62 M1386.05 1080.2V1085.9 M1376.58 1080.2H1395.53 M1423.95 1011.8V1020.15 M1414.48 1011.8H1433.42 M1461.85 1019.15V1030.5 M1452.38 1019.15H1471.33 M1537.65 1046.5V1053.25 M1528.18 1046.5H1547.12 M1575.55 1083.45V1089.25 M1566.08 1083.45H1585.03 M1613.45 1056V1059.6 M1603.98 1056H1622.92 M1651.35 1058.5V1066 M1641.88 1058.5H1660.83" stroke="#000" stroke-width="2.0" fill="none"/>
<rect x="987.1" y="1054.5" width="2" height="65.05"/>
<rect x="1025" y="1054.5" width="2" height="65.05"/>
<rect x="1062.9" y="1052" width="2" height="67.55"/>
<g transform="translate(950.2 798.25)"><rect x="2.05" y="2.05" width="33.8" height="319.25" fill="url(#pDotD)" stroke="#000" stroke-width="4.1"/></g>
<rect x="990.15" y="1056.55" width="33.8" height="63" fill="url(#pUpD)" stroke="#000" stroke-width="4.1"/>
<g transform="translate(1026 985.5)"><rect x="2.05" y="2.05" width="33.8" height="132" fill="url(#pHBrickD)" stroke="#000" stroke-width="4.1"/></g>
<rect x="1065.95" y="1054.05" width="33.8" height="65.5" fill="url(#pBUpD)" stroke="#000" stroke-width="4.1"/>
<rect x="1176.6" y="1068.75" width="2" height="50.8"/>
<rect x="1214.5" y="1068.75" width="2" height="50.8"/>
<rect x="1252.4" y="1053.25" width="2" height="66.3"/>
<g transform="translate(1139.7 1045.1)"><rect x="2.05" y="2.05" width="33.8" height="72.4" fill="url(#pDotD)" stroke="#000" stroke-width="4.1"/></g>
<rect x="1179.65" y="1070.8" width="33.8" height="48.75" fill="url(#pUpD)" stroke="#000" stroke-width="4.1"/>
<g transform="translate(1215.5 1053.25)"><rect x="2.05" y="2.05" width="33.8" height="64.25" fill="url(#pHBrickD)" stroke="#000" stroke-width="4.1"/></g>
<rect x="1255.45" y="1047.15" width="33.8" height="72.4" fill="url(#pBUpD)" stroke="#000" stroke-width="4.1"/>
<rect x="1366.1" y="1084.9" width="2" height="34.65"/>
<rect x="1404" y="1084.9" width="2" height="34.65"/>
<rect x="1441.9" y="1029.5" width="2" height="90.05"/>
<g transform="translate(1329.2 1021.4)"><rect x="2.05" y="2.05" width="33.8" height="96.1" fill="url(#pDotD)" stroke="#000" stroke-width="4.1"/></g>
<rect x="1369.15" y="1086.95" width="33.8" height="32.6" fill="url(#pUpD)" stroke="#000" stroke-width="4.1"/>
<g transform="translate(1405 1019.15)"><rect x="2.05" y="2.05" width="33.8" height="98.35" fill="url(#pHBrickD)" stroke="#000" stroke-width="4.1"/></g>
<rect x="1444.95" y="1031.55" width="33.8" height="88" fill="url(#pBUpD)" stroke="#000" stroke-width="4.1"/>
<rect x="1555.6" y="1088.25" width="2" height="31.3"/>
<rect x="1593.5" y="1088.25" width="2" height="31.3"/>
<rect x="1631.4" y="1065" width="2" height="54.55"/>
<g transform="translate(1518.7 1052.25)"><rect x="2.05" y="2.05" width="33.8" height="65.25" fill="url(#pDotD)" stroke="#000" stroke-width="4.1"/></g>
<rect x="1558.65" y="1090.3" width="33.8" height="29.25" fill="url(#pUpD)" stroke="#000" stroke-width="4.1"/>
<g transform="translate(1594.5 1058.6)"><rect x="2.05" y="2.05" width="33.8" height="58.9" fill="url(#pHBrickD)" stroke="#000" stroke-width="4.1"/></g>
<rect x="1634.45" y="1067.05" width="33.8" height="52.5" fill="url(#pBUpD)" stroke="#000" stroke-width="4.1"/>
<path d="M931.35 696.95V1121.4 M912.65 1119.55H1691.05 M912.65 698.8H931.35 M912.65 782.95H931.35 M912.65 867.1H931.35 M912.65 951.25H931.35 M912.65 1035.4H931.35 M1025.9 1119.55V1137.6 M1214.9 1119.55V1137.6 M1404.6 1119.55V1137.6 M1594 1119.55V1137.6" stroke="#000" stroke-width="3.7" fill="none"/>
<text transform="translate(907.9 708.65) scale(1 1.07)" font-size="29.17" text-anchor="end">10</text>
<path transform="translate(907.9 708.65) scale(1.0000 1.0700)" fill="#fff" d="M-30.99 -3.48H-25.24V0.7H-30.99Z M-22.4 -3.48H-16.99V0.7H-22.4Z"/>
<text transform="translate(907.9 792.8) scale(1 1.07)" font-size="29.17" text-anchor="end">8</text>
<text transform="translate(907.9 876.95) scale(1 1.07)" font-size="29.17" text-anchor="end">6</text>
<text transform="translate(907.9 961.1) scale(1 1.07)" font-size="29.17" text-anchor="end">4</text>
<text transform="translate(907.9 1045.25) scale(1 1.07)" font-size="29.17" text-anchor="end">2</text>
<text transform="translate(907.9 1129.4) scale(1 1.07)" font-size="29.17" text-anchor="end">0</text>
<text transform="translate(1025.9 1167.7) scale(1 1.04)" font-size="29.17" text-anchor="middle">IL6</text>
<text transform="translate(1214.1 1167.7) scale(1 1.04)" font-size="29.17" text-anchor="middle">CCL2</text>
<text transform="translate(1403.1 1167.7) scale(1 1.04)" font-size="29.17" text-anchor="middle">Fibronectin</text>
<text transform="translate(1593 1167.7) scale(1 1.04)" font-size="29.17" text-anchor="middle">TGFβ</text>
<text transform="translate(856.1 0) rotate(-90) scale(1 1.02)" font-size="29.64"><tspan x="-1108.7" letter-spacing="-0.57">Genes/GAPDH</tspan> <tspan x="-905.3" letter-spacing="-0.05">(Fold</tspan> <tspan x="-833.26" letter-spacing="-0.2">Increase)</tspan></text>
<rect x="961.8" y="734.6" width="51.5" height="4.2"/>
<text class="st" transform="translate(987.8 728.98) scale(1 1.04)" font-size="21.0" text-anchor="middle">*</text>
<rect x="1037.05" y="917.15" width="49.4" height="4.9"/>
<text class="st" transform="translate(1061.75 912.58) scale(1 1.04)" font-size="21.0" text-anchor="middle">*</text>
<rect x="1155.3" y="1016.15" width="49.35" height="4.8"/>
<text transform="translate(1180 1000.6) scale(1 0.98)" font-size="22.6" text-anchor="middle">ns</text>
<rect x="1231" y="1016.7" width="49.1" height="4.7"/>
<text transform="translate(1255.45 1001.3) scale(1 0.98)" font-size="22.6" text-anchor="middle">ns</text>
<rect x="1346.7" y="982.25" width="49.1" height="4.9"/>
<text class="st" transform="translate(1371.1 977.58) scale(1 1.04)" font-size="21.0" text-anchor="middle">*</text>
<rect x="1419.75" y="980.8" width="46.15" height="4.9"/>
<text transform="translate(1442.6 965) scale(1 0.98)" font-size="22.6" text-anchor="middle">ns</text>
<rect x="1530.8" y="1024.35" width="53.3" height="4.9"/>
<text class="st" transform="translate(1556.9 1019.68) scale(1 1.04)" font-size="21.0" text-anchor="middle">*</text>
<rect x="1611.9" y="1024.95" width="54.75" height="4.3"/>
<text transform="translate(1638.7 1009.2) scale(1 0.98)" font-size="22.6" text-anchor="middle">ns</text>
<rect x="1421.65" y="717.8" width="345.8" height="189.55" fill="#fff" stroke="#000" stroke-width="2.1"/>
<g transform="translate(1437.2 741.9)"><rect x="2.2" y="2.2" width="40.5" height="11.5" fill="url(#pDotDL)" stroke="#000" stroke-width="4.4"/></g>
<text transform="translate(1509.1 760.1) scale(0.992 1.04)" font-size="29.17">WT Ctrl</text>
<rect x="1439.4" y="787" width="40.5" height="11.3" fill="url(#pUpDL)" stroke="#000" stroke-width="4.4"/>
<text transform="translate(1509.1 802.35) scale(0.992 1.04)" font-size="29.17">WT SB</text>
<g transform="translate(1437.2 827.7)"><rect x="2.2" y="2.2" width="40.5" height="11.5" fill="url(#pHBrickDL)" stroke="#000" stroke-width="4.4"/></g>
<text transform="translate(1509.1 845.25) scale(0.992 1.04)" font-size="29.17">GPR109A-/- Ctrl</text>
<rect x="1439.4" y="871.8" width="40.5" height="12.3" fill="url(#pBUpDL)" stroke="#000" stroke-width="4.4"/>
<text transform="translate(1509.1 887.3) scale(0.992 1.04)" font-size="29.17">GPR109A-/- SB</text>
<text class="pl" transform="translate(821.3 652.8) scale(0.956 1.07)" font-size="41.7">D</text></g>
</svg>
</body>
</html>
